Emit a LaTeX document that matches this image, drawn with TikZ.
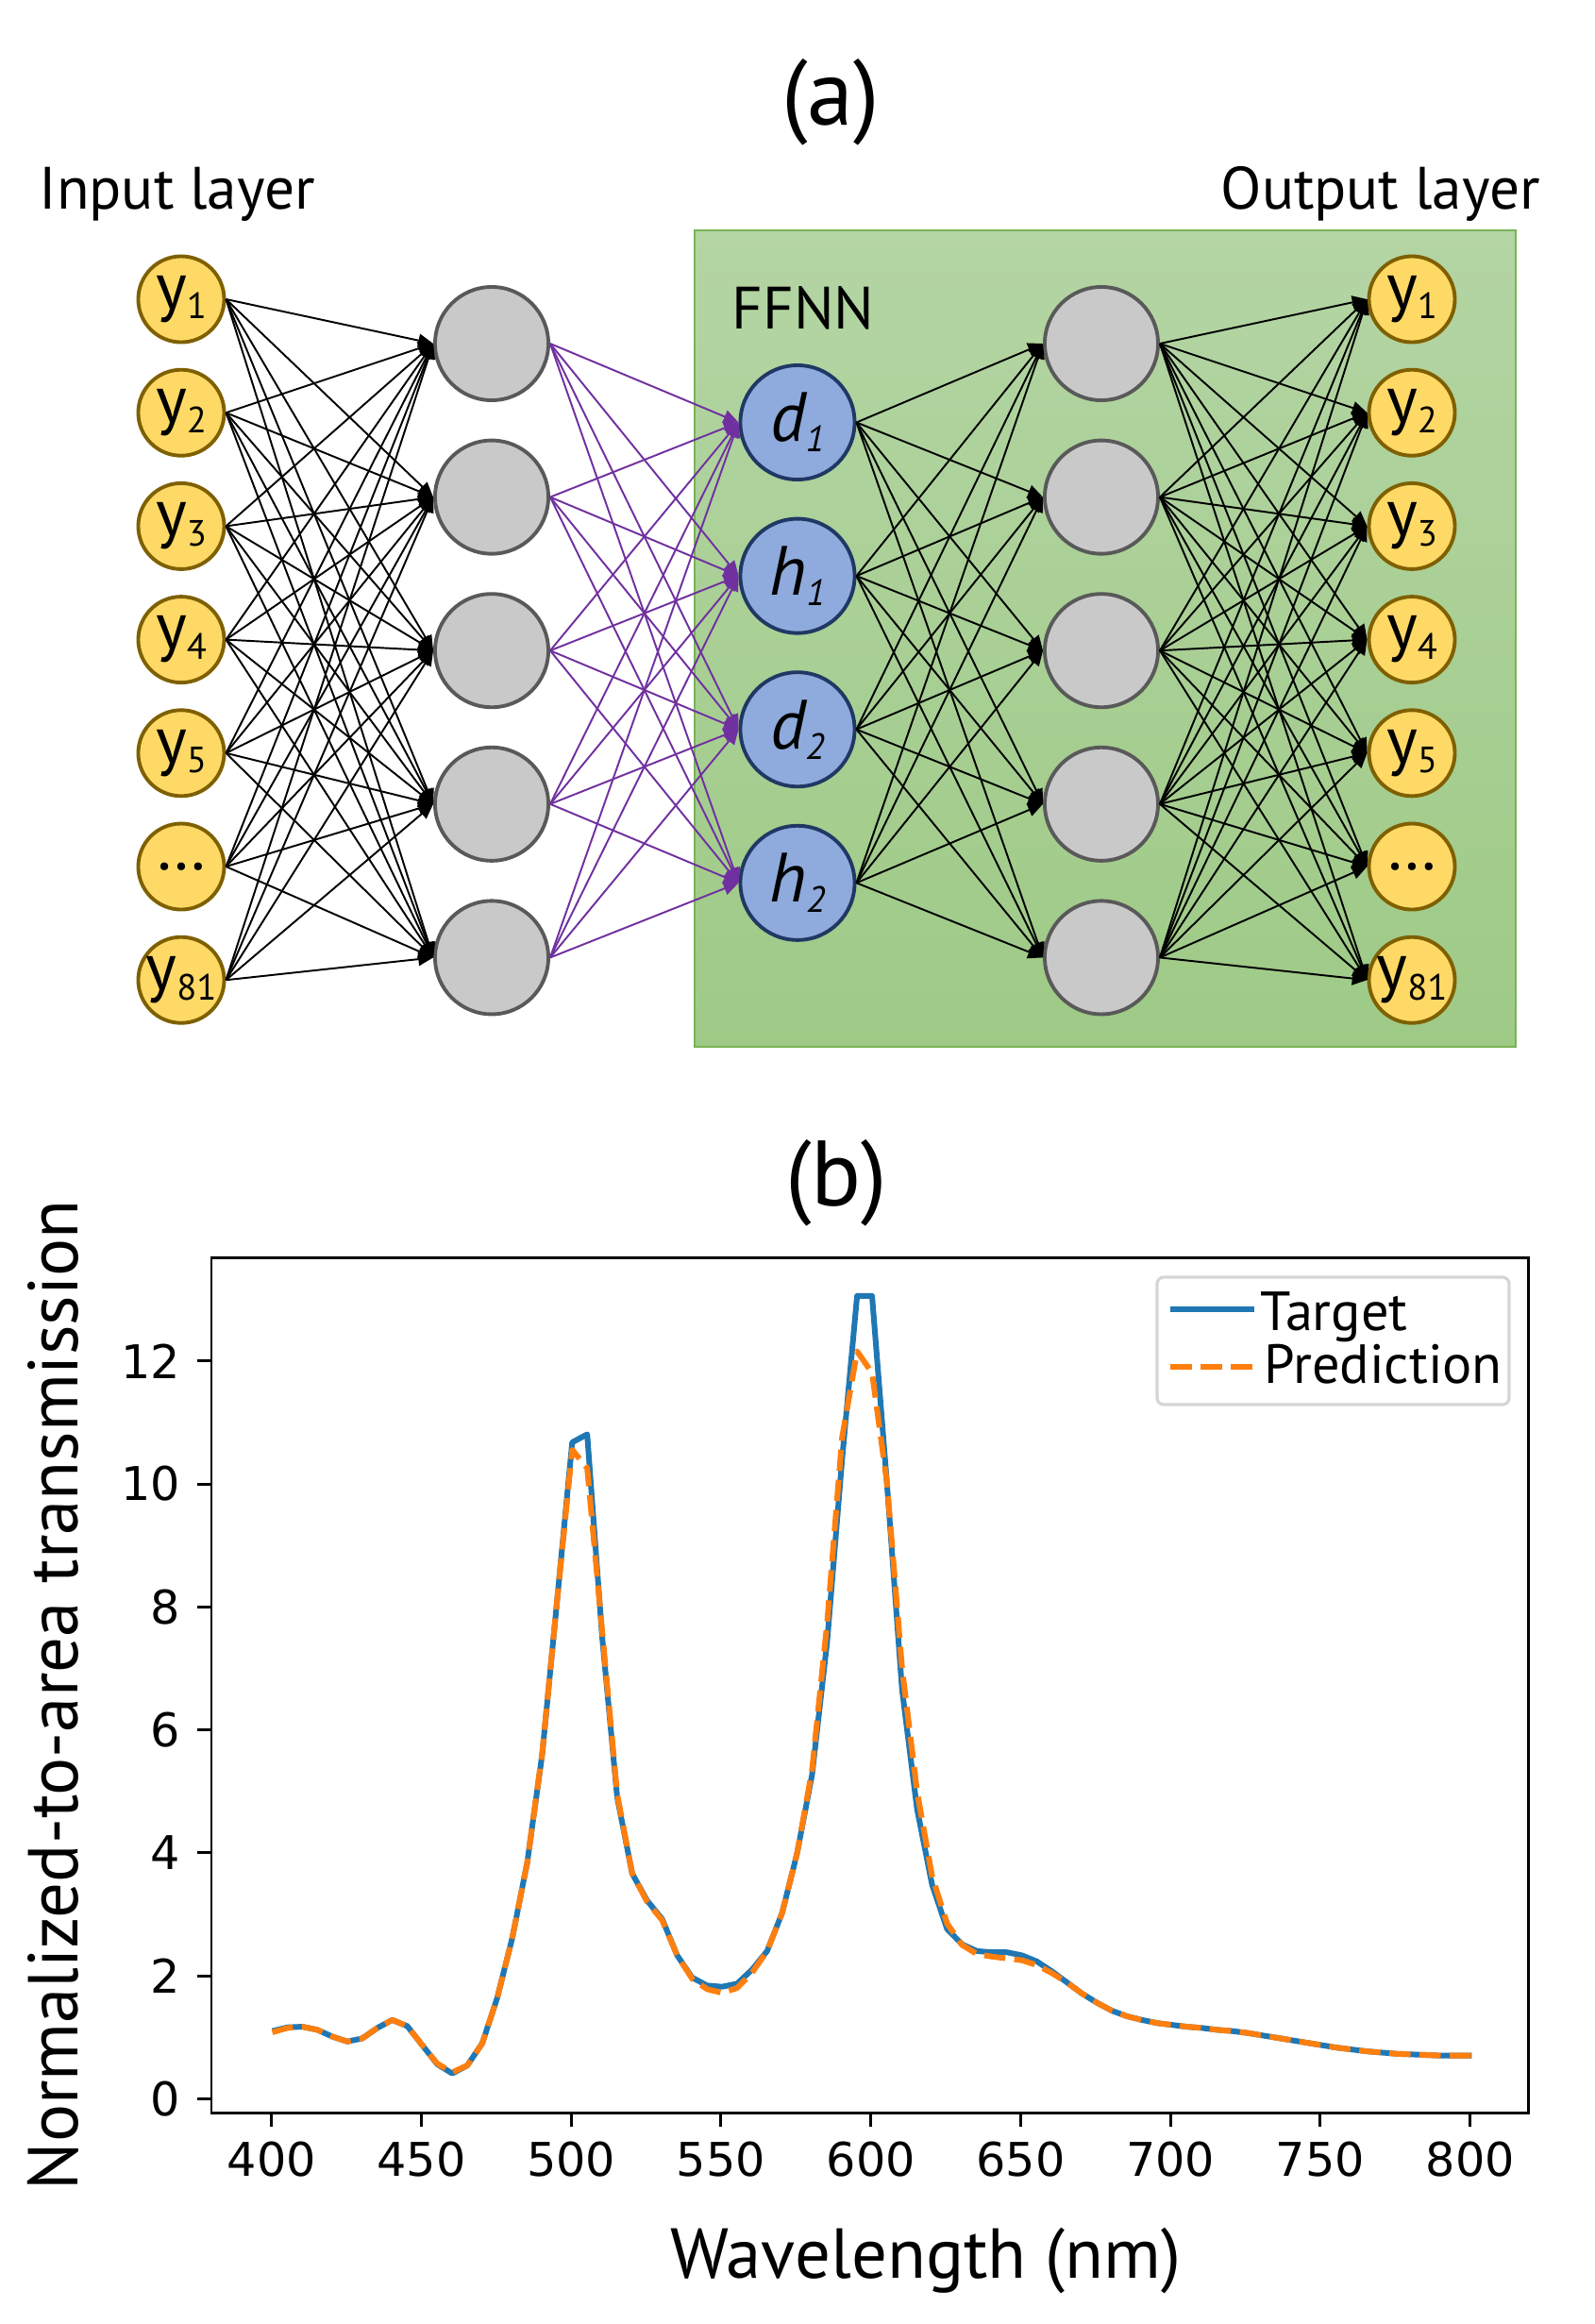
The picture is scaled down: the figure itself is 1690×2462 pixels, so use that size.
\documentclass[tikz,border=0pt]{standalone}
\usepackage{fontspec}
\setmainfont{PT Sans}
\newfontfamily\tickfont{DejaVu Sans}
\usetikzlibrary{arrows.meta}

\definecolor{ygold}{HTML}{FFD966}
\definecolor{ybrown}{HTML}{7F6000}
\definecolor{hgray}{HTML}{C9C9C9}
\definecolor{hedge}{HTML}{595959}
\definecolor{lblue}{HTML}{8FAADC}
\definecolor{ledge}{HTML}{203864}
\definecolor{ffnntop}{HTML}{B4D5A4}
\definecolor{ffnnbot}{HTML}{9ECA86}
\definecolor{ffnnedge}{HTML}{7AB356}
\definecolor{wpurple}{HTML}{7030A0}
\definecolor{mplblue}{HTML}{1F77B4}
\definecolor{mplorange}{HTML}{FF7F0E}
\definecolor{legframe}{HTML}{D5D5D5}

\newcommand{\lowidx}[1]{\raisebox{-0.3ex}{\fontsize{11}{11}\selectfont #1}}

\tikzset{
  ynode/.style={circle, draw=ybrown, fill=ygold, line width=1.1pt, minimum size=0.91cm, inner sep=0pt, font=\fontsize{20}{24}\selectfont},
  hnode/.style={circle, draw=hedge, fill=hgray, line width=1.1pt, minimum size=1.20cm, inner sep=0pt},
  lnode/.style={circle, draw=ledge, fill=lblue, line width=1.1pt, minimum size=1.21cm, inner sep=0pt, font=\fontsize{21}{24}\selectfont\itshape},
  conn/.style={-{Triangle[length=4.5pt,width=4pt]}, line width=0.55pt},
  pconn/.style={conn, draw=wpurple},
  title/.style={inner sep=0pt, font=\fontsize{28}{32}\selectfont},
  heading/.style={anchor=base west, inner sep=0pt, font=\fontsize{18}{22}\selectfont},
  ticklab/.style={inner sep=0pt, font=\tickfont\fontsize{14}{16}\selectfont},
  axlab/.style={inner sep=0pt, font=\fontsize{21.3}{26}\selectfont},
  leglab/.style={anchor=base west, inner sep=0pt, font=\fontsize{16.6}{20}\selectfont},
  target/.style={draw=mplblue, line width=1.7pt, line join=round},
  predict/.style={draw=mplorange, line width=1.7pt, line join=round, dash pattern=on 6.4pt off 2.7pt},
}

\begin{document}
\begin{tikzpicture}[x=0.01cm, y=-0.01cm]
  \useasboundingbox (0,0) rectangle (1690,2462);

  % panel titles
  \node[title] (ta) at (880,108) {(a)};
  \node[title] (tb) at (886,1253) {(b)};

  % FFNN box
  \fill[top color=ffnntop, bottom color=ffnnbot] (736,244) rectangle (1606,1109);
  \draw[ffnnedge, line width=0.8pt] (736,244) rectangle (1606,1109);

  % layer labels
  \node[heading] (inlab) at (41,221) {Input layer};
  \node[heading] (outlab) at (1293,221) {Output layer};
  \node[heading] (ffnn) at (775,348) {FFNN};

  % input layer
  \foreach \lbl [count=\i] in {y\lowidx{1},y\lowidx{2},y\lowidx{3},y\lowidx{4},y\lowidx{5},\dots,y\lowidx{81}}
    \node[ynode] (in\i) at (192,196.8+120.2*\i) {\lbl};

  % first hidden layer
  \foreach \i in {1,...,5}
    \node[hnode] (ha\i) at (521,201.4+162.6*\i) {};

  % latent layer
  \node[lnode] (lat1) at (845,447.5) {d\lowidx{1}};
  \node[lnode] (lat2) at (845,610.1) {h\lowidx{1}};
  \node[lnode] (lat3) at (845,772.7) {d\lowidx{2}};
  \node[lnode] (lat4) at (845,935.3) {h\lowidx{2}};

  % second hidden layer
  \foreach \i in {1,...,5}
    \node[hnode] (hb\i) at (1167,201.4+162.6*\i) {};

  % output layer
  \foreach \lbl [count=\i] in {y\lowidx{1},y\lowidx{2},y\lowidx{3},y\lowidx{4},y\lowidx{5},\dots,y\lowidx{81}}
    \node[ynode] (out\i) at (1496,196.8+120.2*\i) {\lbl};

  % connections
  \foreach \i in {1,...,7}
    \foreach \j in {1,...,5}
      \draw[conn] (in\i.east) -- (ha\j.west);
  \foreach \i in {1,...,5}
    \foreach \j in {1,...,4}
      \draw[pconn] (ha\i.east) -- (lat\j.west);
  \foreach \i in {1,...,4}
    \foreach \j in {1,...,5}
      \draw[conn] (lat\i.east) -- (hb\j.west);
  \foreach \i in {1,...,5}
    \foreach \j in {1,...,7}
      \draw[conn] (hb\i.east) -- (out\j.west);

  % axes of (b)
  \draw[line width=0.85pt] (224,1332) rectangle (1619,2238);
  \foreach \w in {400,450,...,800} {
    \draw[line width=0.85pt] ({287.7+3.175*(\w-400)},2238) -- ++(0,15);
    \node[ticklab, anchor=north] at ({287.7+3.175*(\w-400)},2268) {\w};
  }
  \foreach \v in {0,2,...,12} {
    \draw[line width=0.85pt] (224,{2223.3-65.13*\v}) -- ++(-15,0);
    \node[ticklab, anchor=east] at (192,{2223.3-65.13*\v}) {\v};
  }
  \node[axlab, anchor=base] (xlab) at (981,2413) {Wavelength (nm)};
  \node[axlab, rotate=90, anchor=base] (ylab) at (82,1796) {Normalized-to-area transmission};

  % spectra
  \begin{scope}[shift={(-982.3,2223.3)}, x=0.03175cm, y=0.6513cm]
    \draw[target] plot coordinates {(400,1.10) (405,1.16) (410,1.17) (415,1.12) (420,1.01) (425,0.93) (430,0.98) (435,1.15) (440,1.28) (445,1.18) (450,0.87) (455,0.56) (460,0.41) (465,0.54) (470,0.90) (475,1.64) (480,2.61) (485,3.84) (490,5.60) (495,8.12) (500,10.67) (505,10.80) (510,7.50) (515,4.90) (520,3.66) (525,3.22) (530,2.92) (535,2.33) (540,1.97) (545,1.84) (550,1.82) (555,1.87) (560,2.10) (565,2.40) (570,3.02) (575,3.99) (580,5.27) (585,7.42) (590,10.39) (595,13.05) (600,13.05) (605,9.98) (610,6.65) (615,4.71) (620,3.48) (625,2.76) (630,2.51) (635,2.40) (640,2.38) (645,2.38) (650,2.33) (655,2.23) (660,2.07) (665,1.89) (670,1.71) (675,1.56) (680,1.43) (685,1.34) (690,1.28) (695,1.23) (700,1.20) (705,1.17) (710,1.15) (715,1.12) (720,1.10) (725,1.07) (730,1.03) (735,0.99) (740,0.95) (745,0.91) (750,0.87) (755,0.83) (760,0.80) (765,0.77) (770,0.75) (775,0.73) (780,0.72) (785,0.71) (790,0.70) (795,0.70) (800,0.70)};
    \draw[predict] plot coordinates {(400,1.08) (405,1.15) (410,1.17) (415,1.12) (420,1.01) (425,0.93) (430,0.98) (435,1.15) (440,1.28) (445,1.18) (450,0.87) (455,0.57) (460,0.43) (465,0.54) (470,0.90) (475,1.64) (480,2.61) (485,3.84) (490,5.62) (495,8.12) (500,10.55) (505,10.25) (510,7.60) (515,4.95) (520,3.66) (525,3.20) (530,2.90) (535,2.33) (540,1.95) (545,1.78) (550,1.72) (555,1.80) (560,2.05) (565,2.40) (570,3.02) (575,3.99) (580,5.35) (585,7.73) (590,10.75) (595,12.15) (600,11.80) (605,10.00) (610,7.00) (615,5.00) (620,3.62) (625,2.85) (630,2.50) (635,2.35) (640,2.31) (645,2.28) (650,2.25) (655,2.17) (660,2.04) (665,1.89) (670,1.71) (675,1.56) (680,1.43) (685,1.34) (690,1.28) (695,1.23) (700,1.20) (705,1.17) (710,1.15) (715,1.12) (720,1.10) (725,1.07) (730,1.03) (735,0.99) (740,0.95) (745,0.91) (750,0.87) (755,0.83) (760,0.80) (765,0.77) (770,0.75) (775,0.73) (780,0.72) (785,0.71) (790,0.70) (795,0.70) (800,0.70)};
  \end{scope}

  % legend
  \draw[legframe, fill=white, line width=0.9pt, rounded corners=2pt] (1226,1353) rectangle (1599,1488);
  \draw[target] (1240,1387) -- (1329,1387);
  \draw[predict] (1240,1448) -- (1329,1448);
  \node[leglab] (lt) at (1335,1409) {Target};
  \node[leglab] (lp) at (1339,1465) {Prediction};
\end{tikzpicture}
\end{document}
